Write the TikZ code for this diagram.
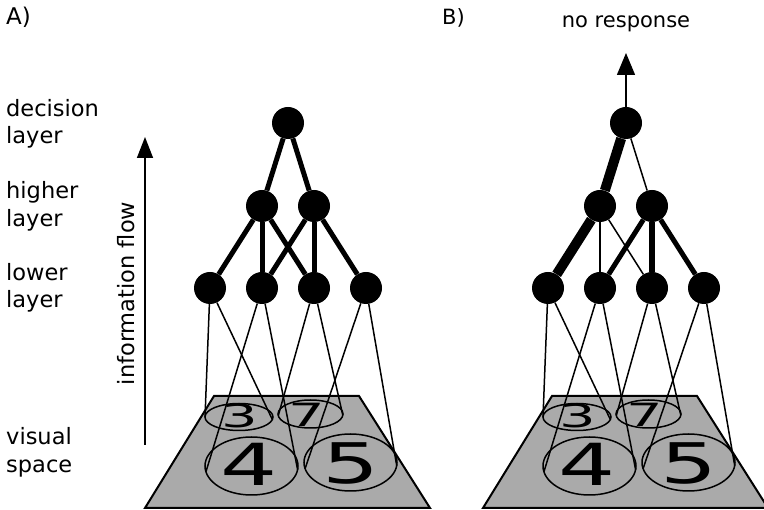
\documentclass[tikz,border=0pt]{standalone}
\usepackage{fontspec}
\setmainfont{DejaVu Sans}
\usepackage{graphicx}
\usetikzlibrary{arrows.meta,shapes.geometric}
\definecolor{planegray}{RGB}{170,170,170}
\tikzset{
 neuron/.style={circle,fill=black,minimum size=32pt,inner sep=0pt},
 field/.style={ellipse,draw=black,line width=1.5pt,inner sep=0pt},
 cone/.style={line width=1.5pt},
 plane/.style={fill=planegray,draw=black,line width=2pt,line join=miter},
 lbl/.style={anchor=base west,inner sep=0pt,font=\fontsize{22.5}{27}\selectfont},
 digit/.style={inner sep=0pt},
 flow/.style={line width=1.5pt,-{Triangle[length=21pt,width=16pt]}},
 wire/.style={line width=5pt},
}
\begin{document}
\begin{tikzpicture}[x=1pt,y=-1pt]
\useasboundingbox (0,0) rectangle (764,510);
\foreach \p/\dx in {a/0,b/338}{
\begin{scope}[xshift=\dx pt]
 \path[plane] (214,396) -- (359,396) -- (430,508) -- (145,508) -- cycle;
 \node[field,minimum width=68pt,minimum height=27pt] (\p e3) at (239,417) {};
 \node[field,minimum width=65pt,minimum height=28pt] (\p e7) at (310.5,414) {};
 \node[field,minimum width=93pt,minimum height=58pt] (\p e4) at (251.5,466) {};
 \node[field,minimum width=93pt,minimum height=57pt] (\p e5) at (350.5,462.5) {};
 \node[digit] (\p d3) at (240,415.5) {\scalebox{1.8}[1]{\fontsize{32}{32}\selectfont 3}};
 \node[digit] (\p d7) at (307,414.5) {\scalebox{1.8}[1]{\fontsize{32}{32}\selectfont 7}};
 \node[digit] (\p d4) at (249,464) {\scalebox{1.55}[1]{\fontsize{58}{58}\selectfont 4}};
 \node[digit] (\p d5) at (351,463) {\scalebox{1.6}[1]{\fontsize{56}{56}\selectfont 5}};
 \path (\p e3.center) ++(179.1:34 and 13.5) coordinate (\p t1l);
 \path (\p e3.center) ++(11.1:34 and 13.5) coordinate (\p t1r);
 \path (\p e4.center) ++(168.5:46.5 and 29) coordinate (\p t2l);
 \path (\p e4.center) ++(7.3:46.5 and 29) coordinate (\p t2r);
 \path (\p e7.center) ++(172.9:32.5 and 14) coordinate (\p t3l);
 \path (\p e7.center) ++(5.7:32.5 and 14) coordinate (\p t3r);
 \path (\p e5.center) ++(167.5:46.5 and 28.5) coordinate (\p t4l);
 \path (\p e5.center) ++(6.3:46.5 and 28.5) coordinate (\p t4r);
 \node[neuron] (\p top) at (288,123) {};
 \node[neuron] (\p h1) at (262,206) {};
 \node[neuron] (\p h2) at (314,206) {};
 \node[neuron] (\p l1) at (210,288) {};
 \node[neuron] (\p l2) at (262,288) {};
 \node[neuron] (\p l3) at (314,288) {};
 \node[neuron] (\p l4) at (366,288) {};
 \draw[cone] (\p l1) -- (\p t1l);
 \draw[cone] (\p l1) -- (\p t1r);
 \draw[cone] (\p l2) -- (\p t2l);
 \draw[cone] (\p l2) -- (\p t2r);
 \draw[cone] (\p l3) -- (\p t3l);
 \draw[cone] (\p l3) -- (\p t3r);
 \draw[cone] (\p l4) -- (\p t4l);
 \draw[cone] (\p l4) -- (\p t4r);
\end{scope}
}
% panel A connections
\draw[wire] (atop) -- (ah1);
\draw[wire] (atop) -- (ah2);
\draw[wire] (ah1) -- (al1);
\draw[wire] (ah1) -- (al2);
\draw[wire] (ah1) -- (al3);
\draw[wire] (ah2) -- (al2);
\draw[wire] (ah2) -- (al3);
\draw[wire] (ah2) -- (al4);
% panel B connections
\draw[line width=10pt] (btop) -- (bh1);
\draw[line width=1.5pt] (btop) -- (bh2);
\draw[line width=10pt] (bh1) -- (bl1);
\draw[line width=1.5pt] (bh1) -- (bl2);
\draw[line width=1.5pt] (bh1) -- (bl3);
\draw[line width=5pt] (bh2) -- (bl2);
\draw[line width=6pt] (bh2) -- (bl3);
\draw[line width=5pt] (bh2) -- (bl4);
% arrows
\coordinate (fbot) at (145,445);
\coordinate (ftop) at (145,137);
\draw[flow] (fbot) -- (ftop);
\coordinate (resp) at (626,53);
\draw[flow,-{Triangle[length=22pt,width=18pt]}] (btop) -- (resp);
% texts
\node[rotate=90,anchor=base,inner sep=0pt,font=\fontsize{22.5}{27}\selectfont] (flowtxt) at (134,293.5) {information flow};
\node[lbl] (dec1) at (6,117) {decision};
\node[lbl] (dec2) at (6,144) {layer};
\node[lbl] (hig1) at (6,199) {higher};
\node[lbl] (hig2) at (6,227) {layer};
\node[lbl] (low1) at (6,281) {lower};
\node[lbl] (low2) at (6,308) {layer};
\node[lbl] (vis1) at (6,445) {visual};
\node[lbl] (vis2) at (6,473) {space};
\node[anchor=base west,inner sep=0pt,font=\fontsize{23}{27}\selectfont] (pa) at (6,25) {A)};
\node[anchor=base west,inner sep=0pt,font=\fontsize{21}{25}\selectfont] (pb) at (442,25) {B)};
\node[anchor=base,inner sep=0pt,font=\fontsize{21}{25}\selectfont] (nores) at (626,28) {no response};
\end{tikzpicture}
\end{document}
